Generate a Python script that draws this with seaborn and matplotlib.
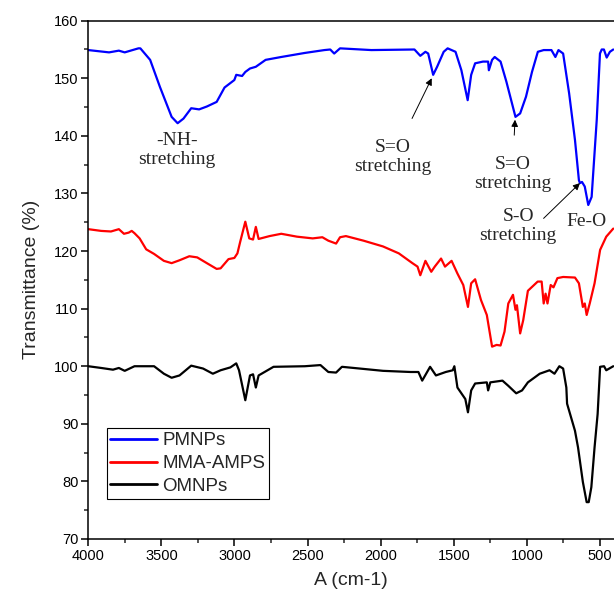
import numpy as np
import pandas as pd
import matplotlib
matplotlib.use("Agg")
import matplotlib.pyplot as plt
from matplotlib.ticker import MultipleLocator
import seaborn as sns

# ---------------- data ----------------
pmnps_x = [4000, 3858, 3791, 3751, 3657, 3644, 3577, 3510, 3430, 3389, 3349, 3296, 3242, 3189,
           3122, 3068, 3001, 2988, 2948, 2926, 2894, 2854, 2787, 2680, 2519, 2385, 2345, 2318,
           2278, 2064, 1769, 1729, 1694, 1675, 1641, 1614, 1569, 1542, 1488, 1448, 1405, 1381,
           1354, 1300, 1265, 1260, 1238, 1220, 1180, 1140, 1078, 1046, 1006, 965, 925, 885, 832,
           805, 784, 752, 711, 671, 644, 637, 623, 604, 580, 557, 522, 500, 488, 473, 454, 432,
           409]
pmnps_y = [154.9, 154.5, 154.8, 154.5, 155.2, 155.2, 153.2, 148.5, 143.3, 142.2, 143.0, 144.8,
           144.6, 145.1, 145.9, 148.4, 149.7, 150.6, 150.4, 151.1, 151.7, 152.0, 153.2, 153.7,
           154.4, 154.9, 155.0, 154.3, 155.2, 154.9, 155.0, 153.9, 154.6, 154.3, 150.6, 152.0,
           154.6, 155.2, 154.6, 151.4, 146.2, 150.6, 152.6, 152.9, 152.9, 151.4, 153.2, 153.7,
           152.9, 149.4, 143.3, 143.9, 146.8, 151.1, 154.6, 154.9, 154.9, 153.7, 154.9, 154.3,
           147.4, 139.3, 132.3, 131.8, 132.0, 131.2, 128.0, 129.4, 142.8, 154.3, 155.0, 155.0,
           153.6, 154.6, 155.0]

mma_x = [4000, 3912, 3845, 3791, 3756, 3724, 3703, 3684, 3649, 3604, 3550, 3483, 3430, 3376,
         3309, 3255, 3189, 3122, 3095, 3041, 3001, 2980, 2961, 2926, 2899, 2873, 2854, 2835,
         2760, 2680, 2573, 2465, 2399, 2358, 2305, 2278, 2238, 2117, 1984, 1876, 1783, 1748,
         1729, 1694, 1654, 1630, 1587, 1560, 1515, 1475, 1435, 1403, 1381, 1354, 1314, 1274,
         1238, 1207, 1180, 1153, 1127, 1095, 1078, 1068, 1046, 1025, 993, 926, 899, 885, 872,
         859, 837, 818, 791, 752, 671, 644, 617, 604, 591, 570, 537, 499, 457, 409]
mma_y = [123.8, 123.5, 123.4, 123.8, 123.0, 123.2, 123.5, 123.1, 122.2, 120.3, 119.5, 118.3,
         117.9, 118.4, 119.1, 118.9, 117.9, 116.9, 117.0, 118.6, 118.8, 119.6, 121.6, 125.1,
         122.2, 122.0, 124.2, 122.1, 122.6, 123.0, 122.5, 122.2, 122.4, 121.8, 121.3, 122.4,
         122.6, 121.8, 120.8, 119.6, 117.9, 117.3, 115.8, 118.3, 116.4, 117.3, 118.7, 117.3,
         118.3, 116.1, 114.1, 110.3, 114.4, 115.1, 111.5, 108.9, 103.4, 103.7, 103.6, 106.0,
         110.9, 112.4, 109.8, 110.6, 105.7, 108.0, 113.1, 114.7, 114.7, 110.9, 112.6, 110.9,
         114.1, 113.7, 115.3, 115.5, 115.4, 114.4, 110.3, 110.9, 108.9, 110.9, 114.4, 120.2,
         122.5, 123.9]

omnps_x = [4000, 3912, 3831, 3791, 3751, 3684, 3550, 3483, 3430, 3376, 3296, 3215, 3148, 3095,
           3028, 2988, 2969, 2926, 2894, 2873, 2854, 2835, 2733, 2519, 2412, 2358, 2305, 2265,
           2144, 1984, 1796, 1742, 1716, 1689, 1662, 1622, 1555, 1507, 1496, 1475, 1421, 1403,
           1381, 1354, 1274, 1265, 1250, 1167, 1127, 1073, 1033, 993, 912, 845, 811, 778, 752,
           730, 725, 671, 650, 617, 591, 577, 559, 537, 516, 499, 472, 457, 409]
omnps_y = [100.0, 99.7, 99.4, 99.7, 99.2, 100.0, 100.0, 98.7, 98.0, 98.4, 100.1, 99.6, 98.7,
           99.3, 99.8, 100.5, 99.3, 94.1, 98.4, 98.6, 96.3, 98.4, 99.9, 100.0, 100.2, 99.0, 98.9,
           99.9, 99.6, 99.2, 99.0, 99.0, 97.5, 98.7, 99.9, 98.4, 99.0, 99.3, 100.0, 96.3, 94.3,
           92.0, 95.8, 97.0, 97.2, 95.8, 97.2, 97.5, 96.6, 95.3, 95.8, 97.2, 98.7, 99.3, 98.7,
           100.0, 99.6, 96.3, 93.5, 88.8, 85.9, 79.9, 76.4, 76.4, 79.0, 85.9, 91.7, 99.9, 100.0,
           99.3, 100.0]

series_names = ["PMNPs", "MMA-AMPS", "OMNPs"]
series_colors = ["#0000FF", "#FF0000", "#000000"]
x_ticks = [4000, 3500, 3000, 2500, 2000, 1500, 1000, 500]
y_ticks = [70, 80, 90, 100, 110, 120, 130, 140, 150, 160]

df = pd.concat([
    pd.DataFrame({"x": pmnps_x, "y": pmnps_y, "s": series_names[0]}),
    pd.DataFrame({"x": mma_x, "y": mma_y, "s": series_names[1]}),
    pd.DataFrame({"x": omnps_x, "y": omnps_y, "s": series_names[2]}),
], ignore_index=True)

# ---------------- figure ----------------
sns.set_style("white")
plt.rcParams["font.family"] = ["Liberation Sans", "DejaVu Sans"]

fig = plt.figure(figsize=(6.14, 5.94), dpi=100)
ax = fig.add_axes([88.3 / 614, 1 - 539 / 594, 1 - 88.3 / 614, (539 - 20.7) / 594])

sns.lineplot(data=df, x="x", y="y", hue="s", hue_order=series_names,
             palette=dict(zip(series_names, series_colors)), estimator=None,
             sort=False, linewidth=1.6, ax=ax, legend=True)

ax.set_xlim(4000, 404)
ax.set_ylim(70, 160)
ax.set_xticks(x_ticks)
ax.set_yticks(y_ticks)
ax.xaxis.set_minor_locator(MultipleLocator(250))
ax.yaxis.set_minor_locator(MultipleLocator(5))
ax.tick_params(axis="both", which="major", direction="out", length=5, width=1.1,
               labelsize=10.5, colors="black", bottom=True, left=True, pad=2)
ax.tick_params(axis="both", which="minor", direction="out", length=3, width=1.1,
               bottom=True, left=True)
for side in ["left", "bottom", "top"]:
    ax.spines[side].set_visible(True)
    ax.spines[side].set_color("black")
    ax.spines[side].set_linewidth(1.1)
ax.spines["right"].set_visible(False)

ax.set_xlabel("A (cm-1)", fontsize=14, labelpad=7)
ax.set_ylabel("Transmittance (%)", fontsize=14, labelpad=10)

leg = ax.legend(loc="lower left", bbox_to_anchor=(0.035, 0.078), fontsize=13.5,
                frameon=True, fancybox=False, edgecolor="black", framealpha=1,
                handlelength=2.5, handletextpad=0.25, labelspacing=0.3,
                borderpad=0.2, borderaxespad=0)
leg.get_frame().set_linewidth(0.8)
for h in leg.get_lines():
    h.set_linewidth(2)

serif = {"family": ["Liberation Serif", "DejaVu Serif"], "size": 14}
ax.text(3395, 137.6, "-NH-\nstretching", ha="center", va="center", fontdict=serif,
        linespacing=1.15)
ax.annotate("S=O\nstretching", xy=(1651, 150.0), xytext=(1915, 136.3),
            ha="center", va="center", fontsize=14, family=serif["family"],
            linespacing=1.15,
            arrowprops=dict(arrowstyle="-|>", color="black", lw=0.7,
                            mutation_scale=10, shrinkA=14, shrinkB=0))
ax.annotate("S=O\nstretching", xy=(1081, 142.8), xytext=(1100, 133.3),
            ha="center", va="center", fontsize=14, family=serif["family"],
            linespacing=1.15,
            arrowprops=dict(arrowstyle="-|>", color="black", lw=0.7,
                            mutation_scale=10, shrinkA=13, shrinkB=0))
ax.annotate("S-O\nstretching", xy=(637, 131.8), xytext=(1060, 124.3),
            ha="center", va="center", fontsize=14, family=serif["family"],
            linespacing=1.15,
            arrowprops=dict(arrowstyle="-|>", color="black", lw=0.7,
                            mutation_scale=10, shrinkA=0, shrinkB=0,
                            patchA=None, relpos=(0.83, 0.72)))
ax.text(591, 125.1, "Fe-O", ha="center", va="center", fontdict=serif)

fig.savefig("out.png", dpi=100)
